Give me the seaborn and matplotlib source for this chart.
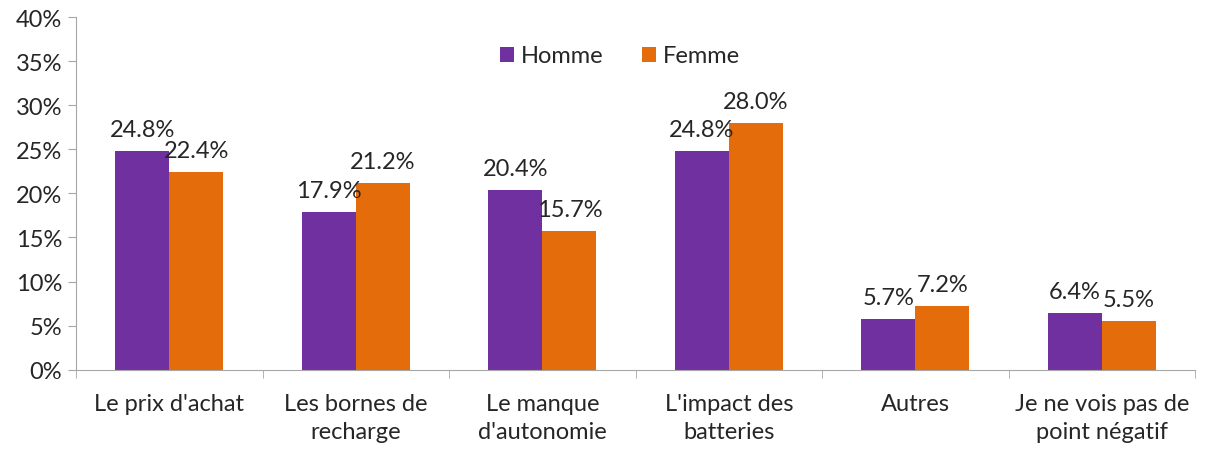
import matplotlib
matplotlib.use("Agg")
import matplotlib.pyplot as plt
import matplotlib.ticker as mticker
import seaborn as sns
import pandas as pd
import numpy as np

categories = ["Le prix d'achat", "Les bornes de\nrecharge", "Le manque\nd'autonomie",
              "L'impact des\nbatteries", "Autres", "Je ne vois pas de\npoint négatif"]
homme = [24.8, 17.9, 20.4, 24.8, 5.7, 6.4]
femme = [22.4, 21.2, 15.7, 28.0, 7.2, 5.5]
series = ["Homme", "Femme"]
colors = {"Homme": "#7030A0", "Femme": "#E46C0A"}

df = pd.DataFrame({
    "cat": categories * 2,
    "val": homme + femme,
    "sexe": ["Homme"] * len(categories) + ["Femme"] * len(categories),
})

sns.set_style("white")
plt.rcParams["font.family"] = ["Lato", "DejaVu Sans"]
fs = 17

fig, ax = plt.subplots(figsize=(12.06, 4.52), dpi=100)
fig.subplots_adjust(left=0.063, right=0.991, top=0.96, bottom=0.18)

sns.barplot(data=df, x="cat", y="val", hue="sexe", hue_order=series,
            palette=colors, width=0.58, saturation=1, linewidth=0, ax=ax)

for cont in ax.containers:
    ax.bar_label(cont, labels=[f"{v:.1f}%" for v in cont.datavalues],
                 padding=8, fontsize=fs)

ax.set_ylim(0, 40)
ax.set_xlim(-0.5, len(categories) - 0.5)
ax.yaxis.set_major_locator(mticker.MultipleLocator(5))
ax.yaxis.set_major_formatter(mticker.FuncFormatter(lambda v, p: f"{v:.0f}%"))
ax.set_xlabel("")
ax.set_ylabel("")

for s in ["top", "right"]:
    ax.spines[s].set_visible(False)
for s in ["left", "bottom"]:
    ax.spines[s].set_color("#A6A6A6")

ax.tick_params(axis="y", which="major", left=True, length=6, color="#A6A6A6", labelsize=fs, pad=4)
ax.tick_params(axis="x", which="major", bottom=False, labelsize=fs, pad=13)
for lbl in ax.get_xticklabels():
    lbl.set_linespacing(1.45)
ax.xaxis.set_minor_locator(mticker.FixedLocator(np.arange(-0.5, len(categories), 1)))
ax.tick_params(axis="x", which="minor", bottom=True, length=6, color="#A6A6A6")

leg = ax.legend(loc="upper center", bbox_to_anchor=(0.486, 0.98), ncol=2, frameon=False,
                fontsize=fs, handlelength=0.6, handleheight=0.6, handletextpad=0.3,
                columnspacing=1.6)

fig.savefig("out.png", dpi=100)
